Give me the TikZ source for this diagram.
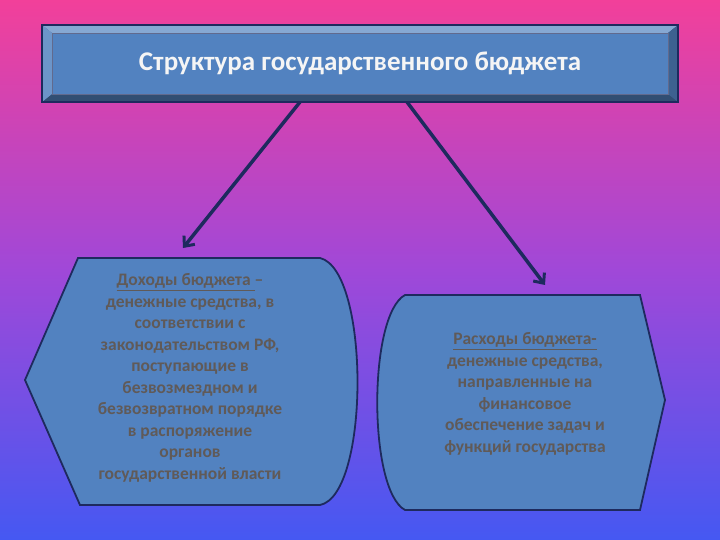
\documentclass[tikz,border=0pt]{standalone}
\usepackage{fontspec}
\setmainfont{Carlito}
\usetikzlibrary{arrows.meta}
\definecolor{bgtop}{HTML}{F2409A}
\definecolor{bgmid}{HTML}{A048D8}
\definecolor{bgbot}{HTML}{4558F2}
\definecolor{boxfill}{HTML}{5282C0}
\definecolor{edge}{HTML}{1E2A5E}
\definecolor{txt}{HTML}{605A58}
\tikzset{
 shp/.style={fill=boxfill,draw=edge,line width=1.8pt},
 conn/.style={draw=edge,line width=3.5pt,-{Straight Barb[length=8pt,width=14pt,line width=3pt]}},
 body/.style={text=txt,font=\bfseries\fontsize{17.5}{21.5}\selectfont,align=center},
}
\begin{document}
\begin{tikzpicture}[x=1pt,y=-1pt]
\useasboundingbox (0,0) rectangle (720,540);
\shade[top color=bgtop,bottom color=bgbot,middle color=bgmid] (0,0) rectangle (720,540);
% title box
\fill[edge!80!boxfill] (42,25) rectangle (678,102);
\fill[boxfill!70!white] (42,25) -- (678,25) -- (668,33) -- (52,33) -- cycle;
\fill[boxfill!60!black] (42,102) -- (678,102) -- (668,94) -- (52,94) -- cycle;
\fill[boxfill!75!black] (678,25) -- (678,102) -- (668,94) -- (668,33) -- cycle;
\fill[boxfill!85!white] (42,25) -- (42,102) -- (52,94) -- (52,33) -- cycle;
\draw[edge,line width=1.2pt] (42,25) rectangle (678,102);
\node[fill=boxfill,draw=edge!70,minimum width=616pt,minimum height=61pt,inner sep=0pt] (title) at (360,63.5) {};
\node[font=\bfseries\fontsize{27}{30}\selectfont,text=white!92!gray] at (title) {Структура государственного бюджета};
% left shape
\draw[shp] (78,258) -- (320,258) .. controls (370,270) and (370,495) .. (320,505) -- (80,505) -- (25,380) -- cycle;
\node[body] (left) at (190,378) {\underline{Доходы бюджета }–\\денежные средства, в\\соответствии с\\законодательством РФ,\\поступающие в\\безвозмездном и\\безвозвратном порядке\\в распоряжение\\органов\\государственной власти};
% right shape
\draw[shp] (405,295) -- (640,295) -- (665,400) -- (640,510) -- (405,510) .. controls (368,490) and (368,315) .. cycle;
\node[body] (right) at (525,394) {\underline{Расходы бюджета-}\\денежные средства,\\направленные на\\финансовое\\обеспечение задач и\\функций государства};
\coordinate (la) at (183,248);
\coordinate (ra) at (545,285);
\draw[conn] (300,102) -- (la);
\draw[conn] (407,102) -- (ra);
\end{tikzpicture}
\end{document}
